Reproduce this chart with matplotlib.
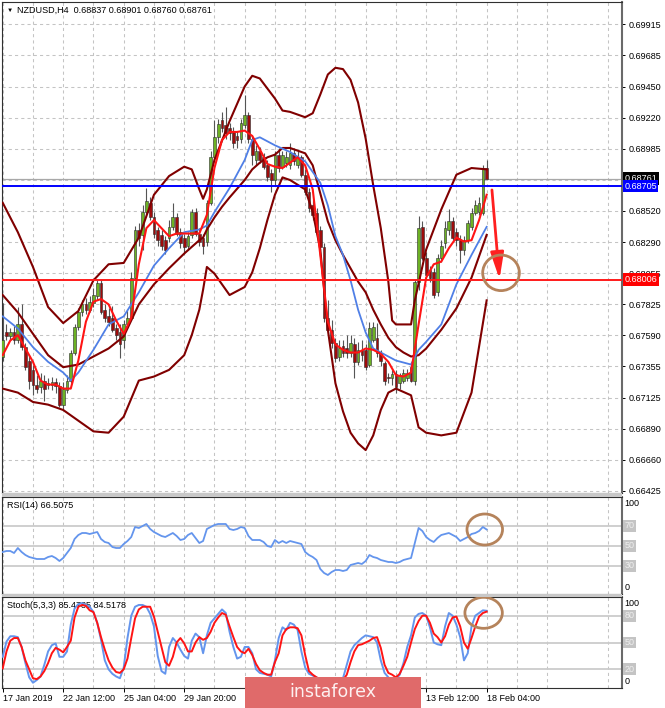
import matplotlib
matplotlib.use("Agg")
import matplotlib.pyplot as plt
from matplotlib.patches import Rectangle, Ellipse, FancyArrowPatch
import numpy as np

plt.rcParams["font.family"] = ["Liberation Sans", "DejaVu Sans"]

# NZDUSD H4 candles, bar 0 = 17 Jan 2019 20:00, bar 128 = 18 Feb 04:00
opens = [
    0.6743, 0.6761, 0.6758, 0.6761, 0.6755, 0.6767, 0.6750, 0.6740, 0.6733, 0.6722,
    0.6720, 0.6725, 0.6722, 0.6722, 0.6724, 0.6721, 0.6707, 0.6718, 0.6725, 0.6746,
    0.6765, 0.6776, 0.6782, 0.6778, 0.6783, 0.6788, 0.6798, 0.6778, 0.6773, 0.6772,
    0.6764, 0.6761, 0.6755, 0.6767, 0.6772, 0.6802, 0.6838, 0.6834, 0.6851, 0.6858,
    0.6847, 0.6838, 0.6834, 0.6830, 0.6832, 0.6840, 0.6847, 0.6836, 0.6832, 0.6826,
    0.6834, 0.6851, 0.6835, 0.6832, 0.6829, 0.6858, 0.6892, 0.6907, 0.6920, 0.6916,
    0.6914, 0.6911, 0.6908, 0.6906, 0.6916, 0.6924, 0.6906, 0.6890, 0.6897, 0.6892,
    0.6886, 0.6880, 0.6875, 0.6894, 0.6885, 0.6888, 0.6886, 0.6895, 0.6886, 0.6892,
    0.6879, 0.6866, 0.6856, 0.6850, 0.6838, 0.6825, 0.6772, 0.6763, 0.6753, 0.6743,
    0.6751, 0.6749, 0.6746, 0.6752, 0.6739, 0.6748, 0.6748, 0.6737, 0.6755, 0.6757,
    0.6746, 0.6738, 0.6728, 0.6727, 0.6730, 0.6723, 0.6725, 0.6727, 0.6735, 0.6725,
    0.6799, 0.6840, 0.6817, 0.6808, 0.6806, 0.6791, 0.6817, 0.6828, 0.6838, 0.6844,
    0.6836, 0.6830, 0.6823, 0.6830, 0.6840, 0.6850, 0.6851, 0.6850, 0.68837,
]
highs = [
    0.6783, 0.6767, 0.6764, 0.6766, 0.6780, 0.6782, 0.6753, 0.6744, 0.6737, 0.6729,
    0.6731, 0.6729, 0.6727, 0.6728, 0.6727, 0.6724, 0.6724, 0.6729, 0.6748, 0.6767,
    0.6779, 0.6785, 0.6787, 0.6788, 0.6794, 0.6800, 0.6800, 0.6782, 0.6779, 0.6781,
    0.6767, 0.6767, 0.6770, 0.6778, 0.6806, 0.6841, 0.6843, 0.6856, 0.6869, 0.6862,
    0.6851, 0.6840, 0.6838, 0.6833, 0.6845, 0.6858, 0.6850, 0.6839, 0.6835, 0.6836,
    0.6853, 0.6854, 0.6839, 0.6835, 0.6860, 0.6897, 0.6920, 0.6921, 0.6926, 0.6930,
    0.6918, 0.6915, 0.6912, 0.6921, 0.6939, 0.6926, 0.6909, 0.6901, 0.6900, 0.6895,
    0.6890, 0.6883, 0.6897, 0.6899, 0.6897, 0.6897, 0.6903, 0.6899, 0.6897, 0.6894,
    0.6883, 0.6869, 0.6860, 0.6854, 0.6841, 0.6828, 0.6785, 0.6770, 0.6757, 0.6755,
    0.6755, 0.6759, 0.6759, 0.6757, 0.6754, 0.6755, 0.6752, 0.6769, 0.6769, 0.6768,
    0.6748, 0.6740, 0.6731, 0.6733, 0.6733, 0.6731, 0.6734, 0.6734, 0.6739, 0.6800,
    0.6848, 0.6844, 0.6821, 0.6811, 0.6809, 0.6820, 0.6830, 0.6844, 0.6853, 0.6847,
    0.6839, 0.6834, 0.6833, 0.6845, 0.6854, 0.6860, 0.6862, 0.6886, 0.68901,
]
lows = [
    0.6740, 0.6755, 0.6755, 0.6752, 0.6753, 0.6748, 0.6733, 0.6719, 0.6714, 0.6716,
    0.6716, 0.6710, 0.6719, 0.6718, 0.6716, 0.6705, 0.6703, 0.6716, 0.6723, 0.6744,
    0.6763, 0.6773, 0.6775, 0.6776, 0.6780, 0.6785, 0.6775, 0.6769, 0.6766, 0.6761,
    0.6755, 0.6742, 0.6749, 0.6764, 0.6770, 0.6800, 0.6826, 0.6823, 0.6849, 0.6845,
    0.6832, 0.6826, 0.6823, 0.6820, 0.6829, 0.6838, 0.6833, 0.6824, 0.6820, 0.6823,
    0.6832, 0.6833, 0.6826, 0.6820, 0.6826, 0.6856, 0.6890, 0.6903, 0.6911, 0.6906,
    0.6905, 0.6899, 0.6899, 0.6903, 0.6914, 0.6903, 0.6886, 0.6886, 0.6888, 0.6883,
    0.6874, 0.6866, 0.6871, 0.6881, 0.6883, 0.6885, 0.6883, 0.6886, 0.6884, 0.6877,
    0.6864, 0.6851, 0.6845, 0.6834, 0.6823, 0.6769, 0.6759, 0.6749, 0.6739, 0.6740,
    0.6743, 0.6742, 0.6743, 0.6727, 0.6737, 0.6740, 0.6733, 0.6735, 0.6754, 0.6743,
    0.6736, 0.6722, 0.6723, 0.6722, 0.6716, 0.6719, 0.6723, 0.6725, 0.6724, 0.6722,
    0.6793, 0.6815, 0.6800, 0.6799, 0.6787, 0.6788, 0.6814, 0.6824, 0.6834, 0.6830,
    0.6826, 0.6813, 0.6819, 0.6828, 0.6838, 0.6849, 0.6849, 0.6849, 0.68760,
]
closes = [
    0.6755, 0.6758, 0.6761, 0.6755, 0.6767, 0.6750, 0.6735, 0.6725, 0.6722, 0.6719,
    0.6725, 0.6719, 0.6723, 0.6724, 0.6721, 0.6707, 0.6719, 0.6725, 0.6746, 0.6765,
    0.6776, 0.6782, 0.6778, 0.6784, 0.6789, 0.6798, 0.6776, 0.6772, 0.6769, 0.6763,
    0.6759, 0.6752, 0.6767, 0.6772, 0.6802, 0.6838, 0.6832, 0.6851, 0.6859, 0.6847,
    0.6835, 0.6830, 0.6826, 0.6823, 0.6840, 0.6847, 0.6835, 0.6828, 0.6825, 0.6833,
    0.6851, 0.6835, 0.6829, 0.6826, 0.6858, 0.6892, 0.6907, 0.6917, 0.6914, 0.6910,
    0.6910, 0.6903, 0.6905, 0.6918, 0.6924, 0.6906, 0.6894, 0.6897, 0.6890, 0.6885,
    0.6877, 0.6875, 0.6894, 0.6884, 0.6894, 0.6892, 0.6895, 0.6889, 0.6892, 0.6879,
    0.6866, 0.6854, 0.6849, 0.6836, 0.6825, 0.6772, 0.6763, 0.6753, 0.6742, 0.6749,
    0.6746, 0.6746, 0.6753, 0.6739, 0.6748, 0.6744, 0.6735, 0.6764, 0.6765, 0.6746,
    0.6740, 0.6725, 0.6727, 0.6730, 0.6720, 0.6729, 0.6731, 0.6731, 0.6725, 0.6799,
    0.6839, 0.6817, 0.6804, 0.6802, 0.6789, 0.6817, 0.6826, 0.6839, 0.6844, 0.6832,
    0.6830, 0.6823, 0.6830, 0.6843, 0.6850, 0.6856, 0.6858, 0.6884, 0.68761,
]

# Bollinger bands (upper / middle / lower), read at selected bars
upper_idx = [0, 4, 8, 12, 16, 20, 24, 28, 32, 36, 40, 44, 48, 50, 52, 53, 54, 56, 60, 64,
             66, 68, 72, 74, 76, 80, 82, 84, 86, 88, 90, 92, 94, 96, 98, 100, 102, 103, 104, 108,
             109, 112, 116, 120, 124, 128]
upper_val = [0.6858, 0.6836, 0.6810, 0.6780, 0.6768, 0.6777, 0.6800, 0.6812, 0.6813, 0.6832,
             0.6864, 0.6878, 0.6885, 0.6883, 0.6868, 0.6861, 0.6868, 0.6890, 0.6919, 0.6945,
             0.6953, 0.6951, 0.6936, 0.6927, 0.6926, 0.6922, 0.6925, 0.6939, 0.6954, 0.6959,
             0.6958, 0.6950, 0.6933, 0.6906, 0.6871, 0.6839, 0.6799, 0.6770, 0.6767, 0.6767,
             0.6785, 0.6823, 0.6853, 0.6879, 0.6884, 0.6883]
mid_idx = [0, 4, 8, 12, 16, 20, 24, 28, 32, 36, 40, 44, 48, 50, 52, 53, 54, 56, 58, 60,
           64, 66, 68, 70, 72, 74, 76, 80, 82, 84, 86, 88, 90, 92, 94, 96, 98, 100, 102, 104,
           106, 108, 110, 112, 116, 120, 124, 128]
mid_val = [0.6789, 0.6776, 0.6760, 0.6744, 0.6735, 0.6737, 0.6743, 0.6749, 0.6758, 0.6782,
           0.6797, 0.6809, 0.6820, 0.6825, 0.6830, 0.6832, 0.6838, 0.6847, 0.6855, 0.6862,
           0.6875, 0.6883, 0.6888, 0.6892, 0.6894, 0.6899, 0.6899, 0.6895, 0.6886, 0.6865,
           0.6844, 0.6830, 0.6819, 0.6809, 0.6799, 0.6791, 0.6778, 0.6767, 0.6757, 0.6750,
           0.6746, 0.6743, 0.6744, 0.6749, 0.6763, 0.6779, 0.6802, 0.6834]
lower_idx = [0, 4, 8, 12, 16, 20, 24, 28, 32, 36, 40, 44, 48, 50, 52, 53, 54, 56, 58, 60,
             64, 66, 68, 70, 72, 74, 76, 80, 82, 84, 86, 88, 90, 92, 94, 96, 98, 100, 102, 104,
             108, 110, 112, 116, 120, 124, 128]
lower_val = [0.6719, 0.6716, 0.6709, 0.6707, 0.6703, 0.6695, 0.6687, 0.6686, 0.6698, 0.6725,
             0.6728, 0.6733, 0.6744, 0.6759, 0.6778, 0.6793, 0.6810, 0.6805, 0.6797, 0.6789,
             0.6795, 0.6806, 0.6824, 0.6845, 0.6864, 0.6877, 0.6875, 0.6868, 0.6851, 0.6823,
             0.6763, 0.6723, 0.6702, 0.6686, 0.6678, 0.6673, 0.6684, 0.6703, 0.6716, 0.6719,
             0.6714, 0.6690, 0.6686, 0.6684, 0.6686, 0.6716, 0.6785]

# slow moving average (blue)
blue_idx = [0, 4, 8, 12, 16, 18, 20, 24, 28, 32, 36, 40, 44, 48, 52, 54, 56, 60, 64, 66,
            68, 72, 76, 80, 84, 86, 88, 90, 92, 94, 96, 98, 100, 104, 108, 110, 112, 116, 120, 124,
            128]
blue_val = [0.6773, 0.6764, 0.6750, 0.6739, 0.6731, 0.6725, 0.6731, 0.6748, 0.6767, 0.6773,
            0.6791, 0.6811, 0.6824, 0.6836, 0.6838, 0.6841, 0.6851, 0.6869, 0.6890, 0.6905,
            0.6907, 0.6901, 0.6896, 0.6889, 0.6873, 0.6856, 0.6833, 0.6819, 0.6800, 0.6778,
            0.6761, 0.6749, 0.6746, 0.6740, 0.6737, 0.6748, 0.6754, 0.6767, 0.6797, 0.6819,
            0.6840]

# fast moving average (red), every second bar
red_val = [0.6744, 0.6755, 0.6759, 0.6749, 0.6739, 0.6725, 0.6722, 0.6722, 0.6719, 0.6719,
           0.6740, 0.6769, 0.6784, 0.6786, 0.6782, 0.6770, 0.6760, 0.6772, 0.6812, 0.6839,
           0.6845, 0.6839, 0.6833, 0.6835, 0.6835, 0.6835, 0.6835, 0.6849, 0.6884, 0.6905,
           0.6911, 0.6911, 0.6912, 0.6908, 0.6898, 0.6887, 0.6885, 0.6884, 0.6888, 0.6892,
           0.6886, 0.6868, 0.6819, 0.6769, 0.6752, 0.6748, 0.6746, 0.6746, 0.6749, 0.6748,
           0.6745, 0.6739, 0.6729, 0.6728, 0.6731, 0.6767, 0.6802, 0.6812, 0.6814, 0.6824,
           0.6832, 0.6829, 0.6830, 0.6845, 0.6864]

rsi = [
    44, 45, 45, 43, 48, 44, 41, 39, 38, 37, 37, 37, 39, 40, 38, 35, 38, 43, 48, 57,
    61, 63, 63, 62, 63, 64, 57, 54, 53, 49, 48, 48, 52, 55, 59, 69, 68, 70, 72, 67,
    64, 62, 60, 59, 61, 63, 60, 56, 57, 61, 63, 58, 53, 55, 67, 69, 71, 72, 72, 72,
    67, 66, 67, 69, 68, 60, 56, 56, 56, 54, 50, 49, 56, 53, 55, 53, 55, 54, 53, 52,
    44, 41, 39, 36, 27, 23, 21, 24, 26, 26, 25, 26, 31, 32, 33, 32, 35, 41, 39, 38,
    36, 35, 34, 34, 33, 34, 36, 37, 38, 53, 68, 65, 59, 56, 54, 58, 61, 62, 63, 61,
    59, 55, 57, 59, 62, 63, 65, 69, 66.5,
]
stoch_k = [
    34, 51, 57, 57, 56, 45, 27, 11, 5, 8, 12, 25, 40, 47, 49, 34, 34, 40, 70, 88,
    93, 94, 92, 90, 84, 72, 53, 30, 20, 15, 12, 10, 22, 55, 80, 90, 92, 92, 90, 82,
    68, 35, 18, 15, 45, 55, 50, 42, 35, 32, 52, 60, 56, 38, 58, 72, 77, 82, 87, 83,
    62, 45, 32, 34, 45, 45, 38, 20, 16, 15, 14, 12, 30, 55, 67, 64, 72, 70, 64, 40,
    22, 15, 13, 11, 8, 6, 5, 4, 5, 6, 10, 25, 40, 47, 51, 55, 58, 57, 56, 50,
    30, 16, 11, 7, 9, 14, 27, 45, 58, 78, 82, 83, 80, 67, 50, 48, 47, 68, 83, 80,
    70, 56, 30, 38, 68, 80, 83, 86, 85.48,
]
stoch_d = [
    21, 40, 52, 55, 55, 45, 30, 20, 10, 9, 12, 18, 27, 38, 44, 42, 39, 45, 52, 78,
    90, 92, 91, 86, 84, 72, 56, 42, 30, 22, 17, 16, 20, 32, 55, 77, 87, 90, 90, 90,
    79, 62, 45, 28, 24, 34, 50, 55, 49, 40, 40, 50, 56, 53, 55, 62, 72, 78, 83, 81,
    68, 56, 45, 40, 38, 43, 36, 26, 19, 16, 14, 14, 28, 38, 58, 65, 67, 67, 66, 58,
    36, 18, 14, 11, 9, 7, 5, 4, 4, 5, 8, 14, 28, 40, 47, 48, 50, 52, 55, 56,
    44, 25, 16, 14, 11, 15, 24, 34, 50, 65, 74, 80, 80, 72, 60, 56, 50, 57, 70, 78,
    79, 68, 50, 43, 55, 68, 79, 83, 84.52,
]

price_ticks = ["0.66425", "0.66660", "0.66890", "0.67125", "0.67355", "0.67590", "0.67825",
               "0.68055", "0.68290", "0.68520", "", "0.68985", "0.69220", "0.69450",
               "0.69685", "0.69915"]
date_idx = [0, 16, 32, 48, 64, 80, 96, 112, 128]
# labels at 64, 80 and 96 sit under the watermark in the screenshot
date_labels = ["17 Jan 2019", "22 Jan 12:00", "25 Jan 04:00", "29 Jan 20:00", "",
               "", "", "13 Feb 12:00", "18 Feb 04:00"]

bid_price = 0.68761
blue_level = 0.68705
red_level = 0.68006

W, H = 665, 708
fig = plt.figure(figsize=(W / 100, H / 100), dpi=100)


def px_axes(x0, y0, x1, y1):
    return fig.add_axes([x0 / W, 1 - y1 / H, (x1 - x0) / W, (y1 - y0) / H])


ax = px_axes(2, 2, 622, 493)
ax_rsi = px_axes(2, 497, 622, 594)
ax_sto = px_axes(2, 597, 622, 688)

GRID = dict(color="#c4c4c4", ls=(0, (3, 3)), lw=0.75)
FS = 6.5

for a in (ax, ax_rsi, ax_sto):
    a.set_xlim(-0.19, 163.8)
    a.set_xticks(date_idx)
    a.set_xticks([i + 8 for i in date_idx] + [144, 160], minor=True)
    a.grid(True, axis="x", which="both", **GRID)
    a.tick_params(axis="x", which="both", length=0, labelbottom=False)
    a.set_axisbelow(True)
    for s in a.spines.values():
        s.set_color("#303030")
        s.set_linewidth(0.8)
    a.spines["right"].set_color("#6a6a6a")
    a.spines["right"].set_linewidth(1.5)

# ---- main price panel ----
x = np.arange(len(closes))
o, h, l, c = (np.array(v) for v in (opens, highs, lows, closes))
up = c >= o
ax.vlines(x, l, h, color="#555555", lw=0.8, zorder=3)
ax.bar(x[up], (c - o)[up], bottom=o[up], width=0.72, color="#6db224",
       edgecolor="#2b2b2b", lw=0.4, zorder=4)
ax.bar(x[~up], (o - c)[~up], bottom=c[~up], width=0.72, color="#9e0b0b",
       edgecolor="#2b2b2b", lw=0.4, zorder=4)

band_col = "#800000"
ax.plot(upper_idx, upper_val, color=band_col, lw=1.5, zorder=5)
ax.plot(mid_idx, mid_val, color=band_col, lw=1.5, zorder=5)
ax.plot(lower_idx, lower_val, color=band_col, lw=1.5, zorder=5)
ax.plot(blue_idx, blue_val, color="#4f7fe6", lw=1.3, zorder=5)
ax.plot(np.arange(0, 129, 2), red_val, color="#ff1414", lw=1.5, zorder=6)

ax.axhline(bid_price, color="#a8a8a8", lw=0.9, zorder=2)
ax.axhline(blue_level, color="#0000ff", lw=1.4, zorder=7)
ax.axhline(red_level, color="#ff1a1a", lw=1.4, zorder=7)

tick_pos = np.linspace(0.66425, 0.69915, 16)
ax.set_ylim(0.66409, 0.70082)
ax.set_yticks(tick_pos)
ax.set_yticklabels(price_ticks)
ax.yaxis.tick_right()
ax.tick_params(axis="y", length=2.5, width=0.7, labelsize=FS, pad=2, colors="#000000")
ax.grid(True, axis="y", **GRID)

ytr = ax.get_yaxis_transform()
for val, fc in ((bid_price, "#000000"), (blue_level, "#0000ff"), (red_level, "#ff0000")):
    ax.text(1.0035, val, f"{val:.5f}", transform=ytr, ha="left", va="center",
            fontsize=FS, color="white", clip_on=False, zorder=10,
            bbox=dict(boxstyle="square,pad=0.18", fc=fc, ec="none"))

# forecast arrow and target circle
ax.add_patch(FancyArrowPatch((129.4, 0.68676), (131.4, 0.68008),
                             arrowstyle="-|>,head_length=16,head_width=4",
                             mutation_scale=1, lw=2.0, color="#ff2020",
                             shrinkA=0, shrinkB=0, zorder=8))
circ_col = "#b5835b"
ax.add_patch(Ellipse((131.8, 0.68056), 9.7, 0.00266, fill=False, ec=circ_col, lw=2.0, zorder=8))

fig.text(7 / W, 1 - 10.5 / H, "\u25bc", fontsize=4.5, va="center", ha="left")
fig.text(17 / W, 1 - 10.5 / H, "NZDUSD,H4  0.68837 0.68901 0.68760 0.68761",
         fontsize=FS, va="center", ha="left")

LEVEL_BOX = dict(boxstyle="square,pad=0.15", fc="#c4c4c4", ec="none")

# ---- RSI panel ----
ax_rsi.plot(x, rsi, color="#6495ed", lw=1.3, zorder=4)
ax_rsi.set_ylim(2, 99)
ax_rsi.set_yticks([])
for lev in (70, 50, 30):
    ax_rsi.axhline(lev, color="#cbcbcb", lw=1.3, zorder=1)
    ax_rsi.text(1.004, lev, str(lev), transform=ax_rsi.get_yaxis_transform(), ha="left",
                va="center", fontsize=FS, color="#efefef", clip_on=False, bbox=LEVEL_BOX)
ax_rsi.text(1.0035, 0.935, "100", transform=ax_rsi.transAxes, fontsize=FS, va="center")
ax_rsi.text(1.0035, 0.065, "0", transform=ax_rsi.transAxes, fontsize=FS, va="center")
ax_rsi.text(0.008, 0.91, "RSI(14) 66.5075", transform=ax_rsi.transAxes, fontsize=FS, va="center")
ax_rsi.add_patch(Ellipse((127.5, 66.5), 9.4, 31, fill=False, ec=circ_col, lw=2.0, zorder=8))

# ---- Stochastic panel ----
ax_sto.plot(x, stoch_k, color="#6495ed", lw=1.4, zorder=4)
ax_sto.plot(x, stoch_d, color="#ff1414", lw=1.4, zorder=5)
ax_sto.set_ylim(-0.9, 100.9)
ax_sto.set_yticks([])
for lev in (80, 50, 20):
    ax_sto.axhline(lev, color="#cbcbcb", lw=1.3, zorder=1)
    ax_sto.text(1.004, lev, str(lev), transform=ax_sto.get_yaxis_transform(), ha="left",
                va="center", fontsize=FS, color="#efefef", clip_on=False, bbox=LEVEL_BOX)
ax_sto.text(1.0035, 0.925, "100", transform=ax_sto.transAxes, fontsize=FS, va="center")
ax_sto.text(1.0035, 0.066, "0", transform=ax_sto.transAxes, fontsize=FS, va="center")
ax_sto.text(0.008, 0.905, "Stoch(5,3,3) 85.4785 84.5178", transform=ax_sto.transAxes,
            fontsize=FS, va="center")
ax_sto.add_patch(Ellipse((127.2, 83.2), 9.9, 34.7, fill=False, ec=circ_col, lw=2.0, zorder=8))

ax_sto.set_xticklabels(date_labels, ha="left")
ax_sto.tick_params(axis="x", which="major", length=3, width=0.7, labelbottom=True,
                   labelsize=FS, pad=1)

# panel separators
for y0, y1 in ((493, 497), (594, 597)):
    fig.patches.append(Rectangle((2 / W, 1 - y1 / H), 620 / W, (y1 - y0) / H,
                                 transform=fig.transFigure, fc="#c8c8c8", ec="none"))

# watermark
fig.patches.append(Rectangle((245 / W, 0), 176 / W, 31 / H, transform=fig.transFigure,
                             fc="#e06a6a", ec="none", zorder=20))
fig.text(333 / W, 1 - 692 / H, "instaforex", fontsize=12.5, color="#fdf0f0",
         ha="center", va="center", family="DejaVu Sans", zorder=21)

fig.savefig("out.png", dpi=100)
